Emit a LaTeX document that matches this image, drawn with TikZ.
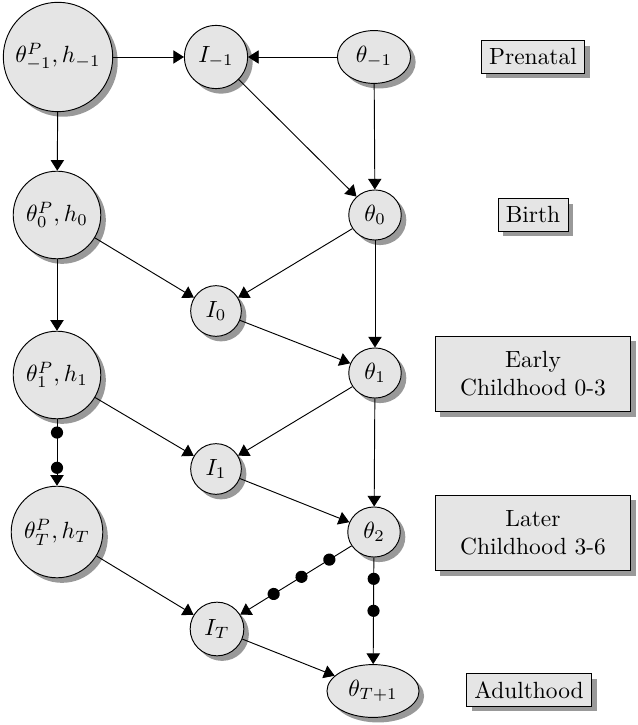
\documentclass[tikz,border=0pt]{standalone}
\usepackage{amsmath,amssymb}
\usepackage{tikz}
\usetikzlibrary{arrows.meta,shapes,shadows}
\usetikzlibrary{decorations.markings}
\tikzset{
    parent/.style={circle, draw=black, fill=gray!20, drop shadow={fill=gray!80,opacity=1}},
    invest/.style={circle, draw=black, fill=gray!20, drop shadow={fill=gray!80,opacity=1}},
    skill/.style={ellipse, draw=black, fill=gray!20, drop shadow={fill=gray!80,opacity=1}},
    stage/.style={rectangle, draw=black, fill=gray!20, align=center, drop shadow={fill=gray!80,opacity=1}},
    widestage/.style={stage, minimum width=2.93cm, minimum height=1.13cm},
    link/.style={draw=black, -{Triangle[length=1.6mm,width=2mm]}},
    bead/.style={postaction={decorate},
        postaction={decorate, decoration={markings,mark=at position #1 with {\fill[black] circle (2.6pt);}}}},
}

\begin{document}
\begin{tikzpicture}[x=0.015cm, y=-0.015cm]
	\useasboundingbox (0,0) rectangle (637,725);
	\node[parent] (pm1) at (58,57) {$\theta^P_{-1}, h_{-1}$};
	\node[parent] (p0) at (57,215) {$\theta^P_0, h_0$};
	\node[parent] (p1) at (57,375) {$\theta^P_1, h_1$};
	\node[parent] (pT) at (57,532) {$\theta^P_T, h_T$};
%
	\node[invest] (im1) at (216,57) {$I_{-1}$};
	\node[invest] (i0) at (216,311) {$I_0$};
	\node[invest] (i1) at (216,469) {$I_1$};
	\node[invest] (iT) at (217,629) {$I_T$};
%
	\node[skill] (sm1) at (374,57) {$\theta_{-1}$};
	\node[skill] (s0) at (375,215) {$\theta_0$};
	\node[skill] (s1) at (375,373) {$\theta_1$};
	\node[skill] (s2) at (374,532) {$\theta_2$};
	\node[skill] (sT1) at (373,691) {$\theta_{T+1}$};
%
	\node[stage] (prenatal) at (533,57) {Prenatal};
	\node[stage] (birth) at (533,215) {Birth};
	\node[widestage] (early) at (533,374) {Early\\Childhood 0-3};
	\node[widestage] (later) at (533,533) {Later\\Childhood 3-6};
	\node[stage] (adult) at (529,690) {Adulthood};
%
	\draw[link] (pm1) -- (im1);
	\draw[link] (sm1) -- (im1);
	\draw[link] (im1) -- (s0);
	\draw[link] (sm1) -- (s0);
	\draw[link] (pm1) -- (p0);
%
	\draw[link] (p0) -- (i0);
	\draw[link] (s0) -- (i0);
	\draw[link] (p0) -- (p1);
	\draw[link] (s0) -- (s1);
	\draw[link] (i0) -- (s1);
%
	\draw[link] (p1) -- (i1);
	\draw[link] (s1) -- (i1);
	\draw[link] (s1) -- (s2);
	\draw[link] (i1) -- (s2);
	\draw[link, bead=.2, bead=.73] (p1) -- (pT);
%
	\draw[link] (pT) -- (iT);
	\draw[link, bead=.2, bead=.45, bead=.7] (s2) -- (iT);
	\draw[link, bead=.2, bead=.5] (s2) -- (sT1);
	\draw[link] (iT) -- (sT1);
\end{tikzpicture}
\end{document}
